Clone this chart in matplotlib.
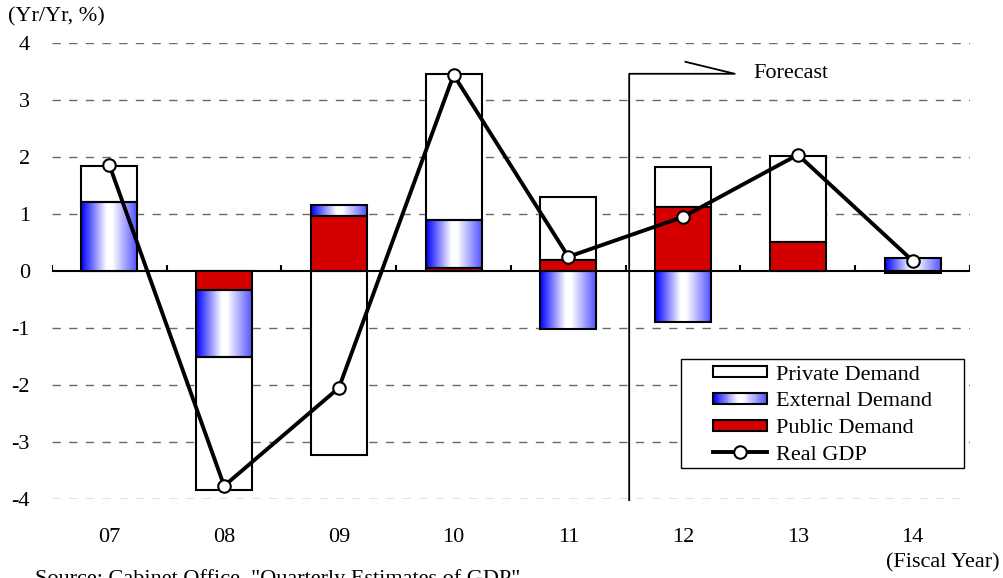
import numpy as np
import matplotlib
matplotlib.use("Agg")
import matplotlib.pyplot as plt
from matplotlib.patches import Rectangle
from matplotlib.lines import Line2D
from matplotlib.legend_handler import HandlerBase

plt.rcParams['font.family'] = ['Liberation Serif', 'DejaVu Serif']

# Contributions to real GDP growth (Yr/Yr, %) by fiscal year
years = ['07', '08', '09', '10', '11', '12', '13', '14']
private_demand = [0.64, -2.34, -3.22, 2.56, 1.10, 0.70, 1.51, -0.04]
external_demand = [1.21, -1.17, 0.18, 0.84, -1.02, -0.89, 0.0, 0.22]
public_demand = [0.0, -0.33, 0.97, 0.05, 0.19, 1.12, 0.51, 0.0]
real_gdp = [1.86, -3.77, -2.05, 3.44, 0.25, 0.95, 2.04, 0.18]

y_ticks = [-4, -3, -2, -1, 0, 1, 2, 3, 4]
forecast_from = 4.53  # just after the FY11 / FY12 boundary

RED = '#d40000'
BAR_W = 0.49
FS = 16

# horizontal blue-white-blue gradient used for external demand
def gradient_rgb(n=200):
    t = np.linspace(0, 1, n)
    stops = [0.0, 0.45, 0.55, 1.0]
    r = np.interp(t, stops, [0.0, 1.0, 1.0, 0.30])
    g = np.interp(t, stops, [0.0, 1.0, 1.0, 0.30])
    b = np.ones_like(t)
    return np.dstack([r, g, b])

GRAD = gradient_rgb()

fig = plt.figure(figsize=(10.04, 5.78), dpi=100)
ax = fig.add_axes([52 / 1004, 1 - 499 / 578, 918 / 1004, 456 / 578])

x = np.arange(len(years))

# grid
for yv in y_ticks:
    if yv != 0:
        ax.axhline(yv, color='#6a6a6a', lw=1.0, ls=(0, (6, 6)), zorder=1)

# stacked bars: public nearest zero, then external, then private
pos_base = np.zeros(len(years))
neg_base = np.zeros(len(years))
series = [(public_demand, 'public'), (external_demand, 'external'), (private_demand, 'private')]
for vals, kind in series:
    vals = np.asarray(vals, dtype=float)
    bottoms = np.where(vals >= 0, pos_base, neg_base)
    for xi, v, b in zip(x, vals, bottoms):
        if v == 0:
            continue
        if kind == 'external':
            lo, hi = sorted([b, b + v])
            ax.imshow(GRAD, extent=(xi - BAR_W / 2, xi + BAR_W / 2, lo, hi),
                      aspect='auto', zorder=3, interpolation='bilinear')
            ax.bar(xi, v, bottom=b, width=BAR_W, facecolor='none',
                   edgecolor='black', lw=1.5, zorder=3.2)
        elif kind == 'public':
            ax.bar(xi, v, bottom=b, width=BAR_W, facecolor=RED,
                   edgecolor='black', lw=1.5, zorder=3.1)
        else:
            ax.bar(xi, v, bottom=b, width=BAR_W, facecolor='white',
                   edgecolor='black', lw=1.5, zorder=3.0)
    pos_base = pos_base + np.where(vals > 0, vals, 0)
    neg_base = neg_base + np.where(vals < 0, vals, 0)

# zero line with category boundary ticks
ax.axhline(0, color='black', lw=1.5, zorder=2.5)
bounds = np.arange(len(years) + 1) - 0.5
ax.vlines(bounds, 0, 0.1, color='black', lw=1.5, zorder=2.5)

# real GDP line
ax.plot(x, real_gdp, color='black', lw=2.8, marker='o', markersize=9,
        markerfacecolor='white', markeredgecolor='black', markeredgewidth=1.5,
        zorder=5)

# forecast marker
ax.plot([forecast_from, forecast_from, 5.45, 5.02], [-4.02, 3.46, 3.46, 3.67],
        color='black', lw=1.3, zorder=4, clip_on=False)
ax.text(5.61, 3.46, 'Forecast', fontsize=FS, va='center', ha='left')

ax.set_xlim(-0.5, len(years) - 0.5)
ax.set_ylim(-4, 4)
ax.set_yticks(y_ticks)
ax.set_yticklabels([str(v) for v in y_ticks], fontsize=FS)
ax.set_xticks(x)
ax.set_xticklabels(years, fontsize=FS)
ax.tick_params(axis='y', length=0, pad=16)
ax.tick_params(axis='x', length=0, pad=21)
for s in ax.spines.values():
    s.set_visible(False)

fig.text(8 / 1004, 1 - 17 / 578, '(Yr/Yr, %)', fontsize=FS, va='center', ha='left')
fig.text(1000 / 1004, 1 - 563 / 578, '(Fiscal Year)', fontsize=FS, va='center', ha='right')
fig.text(35 / 1004, 1 - 569 / 578, 'Source: Cabinet Office, "Quarterly Estimates of GDP"',
         fontsize=FS, va='top', ha='left')


# legend handlers
class BoxHandler(HandlerBase):
    def __init__(self, face, gradient=False):
        super().__init__()
        self.face = face
        self.gradient = gradient

    def create_artists(self, legend, orig_handle, xdescent, ydescent,
                       width, height, fontsize, trans):
        h = height * 0.68
        y0 = -ydescent + (height - h) / 2
        x0 = -xdescent
        arts = []
        if self.gradient:
            n = 60
            cols = gradient_rgb(n)[0]
            for i in range(n):
                arts.append(Rectangle((x0 + i * width / n, y0), width / n + 0.3, h,
                                      facecolor=cols[i], edgecolor='none',
                                      transform=trans))
            arts.append(Rectangle((x0, y0), width, h, facecolor='none',
                                  edgecolor='black', lw=1.5, transform=trans))
        else:
            arts.append(Rectangle((x0, y0), width, h, facecolor=self.face,
                                  edgecolor='black', lw=1.5, transform=trans))
        return arts


h_priv = Rectangle((0, 0), 1, 1)
h_ext = Rectangle((0, 0), 1, 1)
h_pub = Rectangle((0, 0), 1, 1)
h_gdp = Line2D([], [], color='black', lw=2.8, marker='o', markersize=9,
               markerfacecolor='white', markeredgecolor='black', markeredgewidth=1.5)

# legend frame
fig.patches.append(Rectangle((681 / 1004, 1 - 468 / 578), 283 / 1004, 109 / 578,
                             transform=fig.transFigure, facecolor='white',
                             edgecolor='black', lw=1.0, zorder=5.5))

leg = fig.legend([h_priv, h_ext, h_pub, h_gdp],
                 ['Private Demand', 'External Demand', 'Public Demand', 'Real GDP'],
                 handler_map={h_priv: BoxHandler('white'),
                              h_ext: BoxHandler(None, gradient=True),
                              h_pub: BoxHandler(RED)},
                 loc='upper left', bbox_to_anchor=(713 / 1004, 1 - 364 / 578),
                 bbox_transform=fig.transFigure, fontsize=FS, frameon=False,
                 handlelength=2.45, handletextpad=0.4, labelspacing=0.28,
                 borderpad=0, borderaxespad=0)
leg.set_zorder(6)

fig.savefig('out.png', dpi=100)
